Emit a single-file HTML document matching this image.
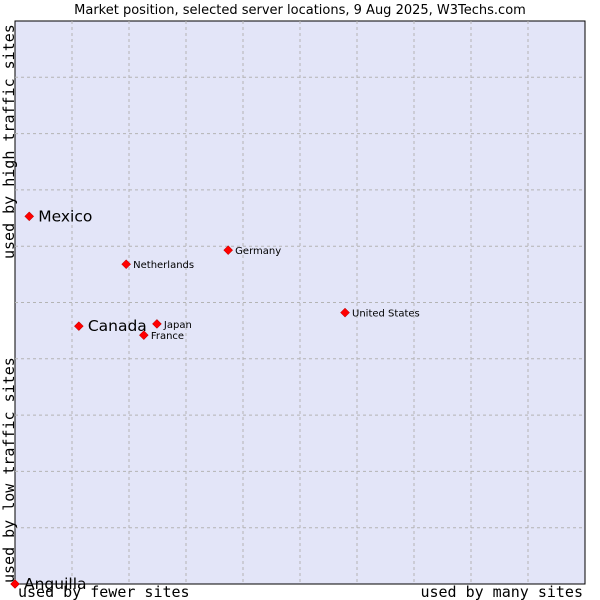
<!DOCTYPE html>
<html><head><meta charset="utf-8"><style>
body{margin:0;background:#fff;width:600px;height:600px;overflow:hidden}
svg{display:block}
</style></head><body>
<svg id="chart" width="600" height="600" xmlns="http://www.w3.org/2000/svg">
<text x="300" y="14" text-anchor="middle" font-family="DejaVu Sans, sans-serif" font-size="13">Market position, selected server locations, 9 Aug 2025, W3Techs.com</text>
<rect x="15" y="21" width="570" height="563" fill="#e3e5f8" stroke="#000" stroke-width="1"/>
<g id="grid"></g>
<text transform="translate(14,259) rotate(-90)" font-family="DejaVu Sans Mono, monospace" font-size="15">used by high traffic sites</text>
<text transform="translate(14,583) rotate(-90)" font-family="DejaVu Sans Mono, monospace" font-size="15">used by low traffic sites</text>
<text x="18" y="597" font-family="DejaVu Sans Mono, monospace" font-size="15">used by fewer sites</text>
<text x="583" y="597" text-anchor="end" font-family="DejaVu Sans Mono, monospace" font-size="15">used by many sites</text>
<g id="points"></g>
</svg>
<script>
const names = ["Mexico","Canada","Netherlands","Germany","Japan","France","United States","Anguilla"];
const xValues = [2.5, 11.2, 19.5, 37.4, 24.9, 22.6, 57.9, 0];
const yValues = [65.3, 45.8, 56.8, 59.3, 46.2, 44.2, 48.2, 0];
const bigLabel = [true, true, false, false, false, false, false, true];
const L=15,T=21,W=570,H=563;
const sx=v=>L+v/100*W, sy=v=>T+H-v/100*H;
const ns="http://www.w3.org/2000/svg";
const grid=document.getElementById('grid');
for(let i=1;i<10;i++){
  const lv=document.createElementNS(ns,'line');
  
  
  const x=sx(i*10);
  lv.setAttribute('x1',x);lv.setAttribute('x2',x);lv.setAttribute('y1',T);lv.setAttribute('y2',T+H);
  lv.setAttribute('stroke','#b4b4b4');lv.setAttribute('stroke-dasharray','3,3');
  grid.appendChild(lv);
  const lh=document.createElementNS(ns,'line');
  
  
  const y=sy(i*10);
  lh.setAttribute('y1',y);lh.setAttribute('y2',y);lh.setAttribute('x1',L);lh.setAttribute('x2',L+W);
  lh.setAttribute('stroke','#b4b4b4');lh.setAttribute('stroke-dasharray','3,3');
  grid.appendChild(lh);
}
const pts=document.getElementById('points');
names.forEach((n,i)=>{
  const x=sx(xValues[i]),y=sy(yValues[i]);
  const d=document.createElementNS(ns,'path');
  
  
  d.setAttribute('d',`M${x-4.5},${y}L${x},${y-4.5}L${x+4.5},${y}L${x},${y+4.5}Z`);
  d.setAttribute('fill','#f00');d.setAttribute('stroke','#a00');d.setAttribute('stroke-width','0.5');
  pts.appendChild(d);
  const t=document.createElementNS(ns,'text');
  
  
  t.setAttribute('x',x+(bigLabel[i]?9:7));
  t.setAttribute('y',y+(bigLabel[i]?5:4));
  t.setAttribute('font-family','DejaVu Sans, sans-serif');
  t.setAttribute('font-size',bigLabel[i]?'15.5':'10');
  t.textContent=n;
  pts.appendChild(t);
});
</script>
</body></html>
